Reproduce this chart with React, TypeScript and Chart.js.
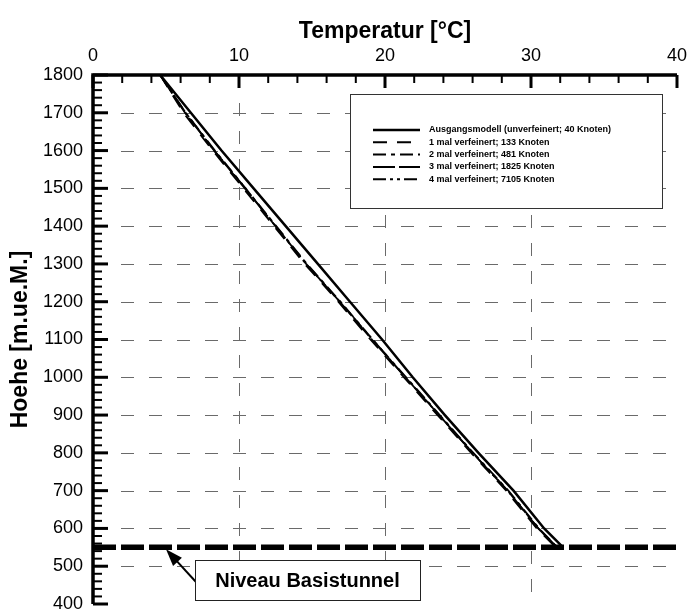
import React, { useEffect, useRef } from 'react';
import { Chart, registerables } from 'chart.js';

Chart.register(...registerables);

// Heights (m ü. M.) at which the temperature profiles are sampled
const heights = [1800, 1700, 1600, 1500, 1400, 1300, 1200, 1100, 1000, 900, 800, 700, 600, 550];

// Temperature profiles [°C] for the different mesh refinements
const tempAusgang = [4.6, 6.7, 8.8, 11.0, 13.2, 15.4, 17.6, 19.8, 21.9, 24.1, 26.4, 28.8, 30.9, 32.2];
const temp1x = [4.6, 6.2, 8.2, 10.3, 12.4, 14.5, 16.8, 19.0, 21.3, 23.6, 25.9, 28.3, 30.4, 31.7];
const temp2x = [4.6, 6.35, 8.35, 10.45, 12.55, 14.65, 16.95, 19.15, 21.45, 23.75, 26.05, 28.45, 30.55, 31.8];
const temp3x = [4.6, 6.3, 8.3, 10.4, 12.5, 14.6, 16.9, 19.1, 21.4, 23.7, 26.0, 28.4, 30.5, 31.8];
const temp4x = [4.6, 6.35, 8.3, 10.45, 12.5, 14.6, 16.9, 19.15, 21.4, 23.7, 26.0, 28.4, 30.5, 31.75];

const seriesLabels = [
  'Ausgangsmodell (unverfeinert; 40 Knoten)',
  '1 mal verfeinert; 133 Knoten',
  '2 mal verfeinert; 481 Knoten',
  '3 mal verfeinert; 1825 Knoten',
  '4 mal verfeinert; 7105 Knoten',
];
const seriesDashes: number[][] = [[], [14, 10], [13, 5, 4, 5], [22, 4], [13, 4, 3, 4, 3, 4]];
const seriesWidths = [2.5, 1.8, 1.8, 1.8, 1.8];

// Axis ranges and ticks
const xMin = 0;
const xMax = 40;
const xMajorStep = 10;
const xMinorStep = 2;
const yMin = 400;
const yMax = 1800;
const yMajorStep = 100;
const yMinorStep = 20;

// Level of the base tunnel and its annotation
const tunnelLevel = 550;
const tunnelLabel = 'Niveau Basistunnel';
const arrowTipTemp = 5.0;

const xTitle = 'Temperatur [°C]';
const yTitle = 'Hoehe [m.ue.M.]';

const FONT = "'Liberation Sans', Arial, Helvetica, sans-serif";

function toPoints(temps: number[]) {
  return temps.map((t, i) => ({ x: t, y: heights[i] }));
}

const framePlugin = {
  id: 'profileFrame',
  beforeDatasetsDraw(chart: any) {
    const { ctx, chartArea: a, scales } = chart;
    const xs = scales.x;
    const ys = scales.y;
    ctx.save();
    ctx.strokeStyle = '#6a6a6a';
    ctx.lineWidth = 1;
    ctx.setLineDash([13, 15]);
    for (let v = xMin + xMajorStep; v < xMax; v += xMajorStep) {
      const px = Math.round(xs.getPixelForValue(v)) + 0.5;
      ctx.beginPath();
      ctx.moveTo(px, a.top);
      ctx.lineTo(px, a.bottom);
      ctx.stroke();
    }
    for (let v = yMin + yMajorStep; v < yMax; v += yMajorStep) {
      const py = Math.round(ys.getPixelForValue(v)) + 0.5;
      ctx.beginPath();
      ctx.moveTo(a.left, py);
      ctx.lineTo(a.right, py);
      ctx.stroke();
    }
    ctx.restore();
  },
  afterDatasetsDraw(chart: any) {
    const { ctx, chartArea: a, scales } = chart;
    const xs = scales.x;
    const ys = scales.y;
    ctx.save();
    ctx.setLineDash([]);
    ctx.strokeStyle = '#000';

    // inward ticks on the left axis
    for (let v = yMin; v <= yMax + 0.001; v += yMinorStep) {
      const major = Math.abs(v % yMajorStep) < 0.001;
      const py = ys.getPixelForValue(v);
      ctx.lineWidth = major ? 3 : 2;
      ctx.beginPath();
      ctx.moveTo(a.left, py);
      ctx.lineTo(a.left + (major ? 15 : 9), py);
      ctx.stroke();
    }
    // inward ticks on the top axis
    for (let v = xMin; v <= xMax + 0.001; v += xMinorStep) {
      const major = Math.abs(v % xMajorStep) < 0.001;
      const px = xs.getPixelForValue(v);
      ctx.lineWidth = major ? 3 : 2;
      ctx.beginPath();
      ctx.moveTo(px, a.top);
      ctx.lineTo(px, a.top + (major ? 13 : 8));
      ctx.stroke();
    }
    // axis lines
    ctx.lineWidth = 3.5;
    ctx.beginPath();
    ctx.moveTo(a.left, a.bottom);
    ctx.lineTo(a.left, a.top);
    ctx.lineTo(a.right, a.top);
    ctx.stroke();

    // legend box
    const lx = a.right - 327;
    const ly = a.top + 19;
    const lw = 312;
    const lh = 114;
    ctx.fillStyle = '#fff';
    ctx.fillRect(lx, ly, lw, lh);
    ctx.lineWidth = 1;
    ctx.strokeStyle = '#333';
    ctx.strokeRect(lx + 0.5, ly + 0.5, lw, lh);
    ctx.font = `bold 9px ${FONT}`;
    ctx.textBaseline = 'middle';
    ctx.textAlign = 'left';
    seriesLabels.forEach((label, i) => {
      const rowY = ly + 36 + i * 12.3;
      ctx.strokeStyle = '#000';
      ctx.lineWidth = i === 0 ? 2.5 : 2;
      ctx.setLineDash(seriesDashes[i]);
      ctx.beginPath();
      ctx.moveTo(lx + 23, rowY);
      ctx.lineTo(lx + 70, rowY);
      ctx.stroke();
      ctx.setLineDash([]);
      ctx.fillStyle = '#000';
      ctx.fillText(label, lx + 79, rowY);
    });

    // tunnel annotation: arrow and boxed label
    const tipX = xs.getPixelForValue(arrowTipTemp);
    const tipY = ys.getPixelForValue(tunnelLevel) + 2;
    const bx = a.left + 102;
    const by = a.bottom - 44;
    const bw = 225;
    const bh = 40;
    const tailX = bx + 1;
    const tailY = by + 22;
    const ang = Math.atan2(tipY - tailY, tipX - tailX);
    const headLen = 17;
    const headHalf = 6;
    ctx.strokeStyle = '#000';
    ctx.lineWidth = 2;
    ctx.beginPath();
    ctx.moveTo(tailX, tailY);
    ctx.lineTo(tipX - Math.cos(ang) * (headLen - 2), tipY - Math.sin(ang) * (headLen - 2));
    ctx.stroke();
    const baseX = tipX - Math.cos(ang) * headLen;
    const baseY = tipY - Math.sin(ang) * headLen;
    ctx.fillStyle = '#000';
    ctx.beginPath();
    ctx.moveTo(tipX, tipY);
    ctx.lineTo(baseX + Math.sin(ang) * headHalf, baseY - Math.cos(ang) * headHalf);
    ctx.lineTo(baseX - Math.sin(ang) * headHalf, baseY + Math.cos(ang) * headHalf);
    ctx.closePath();
    ctx.fill();

    ctx.fillStyle = '#fff';
    ctx.fillRect(bx, by, bw, bh);
    ctx.lineWidth = 1;
    ctx.strokeStyle = '#222';
    ctx.strokeRect(bx + 0.5, by + 0.5, bw, bh);
    ctx.fillStyle = '#000';
    ctx.font = `bold 20px ${FONT}`;
    ctx.textAlign = 'center';
    ctx.textBaseline = 'middle';
    ctx.fillText(tunnelLabel, bx + bw / 2, by + bh / 2 + 1);
    ctx.restore();
  },
};

export default function App() {
  const canvasRef = useRef<HTMLCanvasElement | null>(null);

  useEffect(() => {
    const canvas = canvasRef.current;
    if (!canvas) return;
    const profiles = [tempAusgang, temp1x, temp2x, temp3x, temp4x];
    const datasets: any[] = profiles.map((temps, i) => ({
      label: seriesLabels[i],
      data: toPoints(temps),
      showLine: true,
      borderColor: '#000',
      borderWidth: seriesWidths[i],
      borderDash: seriesDashes[i],
      pointRadius: 0,
      tension: 0,
      fill: false,
    }));
    datasets.push({
      label: tunnelLabel,
      data: [
        { x: xMin, y: tunnelLevel },
        { x: xMax, y: tunnelLevel },
      ],
      showLine: true,
      borderColor: '#000',
      borderWidth: 5.5,
      borderDash: [23, 5],
      borderCapStyle: 'butt',
      pointRadius: 0,
      fill: false,
    });

    const chart = new Chart(canvas, {
      type: 'scatter',
      data: { datasets },
      plugins: [framePlugin],
      options: {
        animation: false,
        responsive: false,
        devicePixelRatio: 1,
        layout: { padding: { left: 0, right: 10, top: 0, bottom: 9 } },
        plugins: {
          legend: { display: false },
          tooltip: { enabled: false },
          title: { display: false },
        },
        scales: {
          x: {
            type: 'linear',
            position: 'top',
            min: xMin,
            max: xMax,
            grid: { display: false, drawTicks: false },
            border: { display: false },
            ticks: {
              stepSize: xMajorStep,
              color: '#000',
              padding: 8,
              font: { family: FONT, size: 18, lineHeight: 1.2 },
              callback: (v: any) => String(v),
            },
            title: {
              display: true,
              text: xTitle,
              color: '#000',
              padding: { top: 18, bottom: 0 },
              font: { family: FONT, size: 23, weight: 'bold', lineHeight: 1.2 },
            },
            afterFit(scale: any) {
              scale.height = 75;
              scale.paddingLeft = 0;
              scale.paddingRight = 0;
            },
          },
          y: {
            type: 'linear',
            min: yMin,
            max: yMax,
            grid: { display: false, drawTicks: false },
            border: { display: false },
            ticks: {
              stepSize: yMajorStep,
              color: '#000',
              padding: 10,
              font: { family: FONT, size: 18, lineHeight: 1 },
              callback: (v: any) => String(v),
            },
            title: {
              display: true,
              text: yTitle,
              color: '#000',
              padding: { top: 7, bottom: 0 },
              font: { family: FONT, size: 23, weight: 'bold', lineHeight: 1.2 },
            },
            afterFit(scale: any) {
              scale.width = 93;
              scale.paddingTop = 0;
              scale.paddingBottom = 0;
            },
          },
        },
      },
    } as any);
    return () => chart.destroy();
  }, []);

  return (
    <div style={{ position: 'fixed', left: 0, top: 0, width: 687, height: 613, background: '#fff' }}>
      <canvas ref={canvasRef} width={687} height={613} />
    </div>
  );
}
